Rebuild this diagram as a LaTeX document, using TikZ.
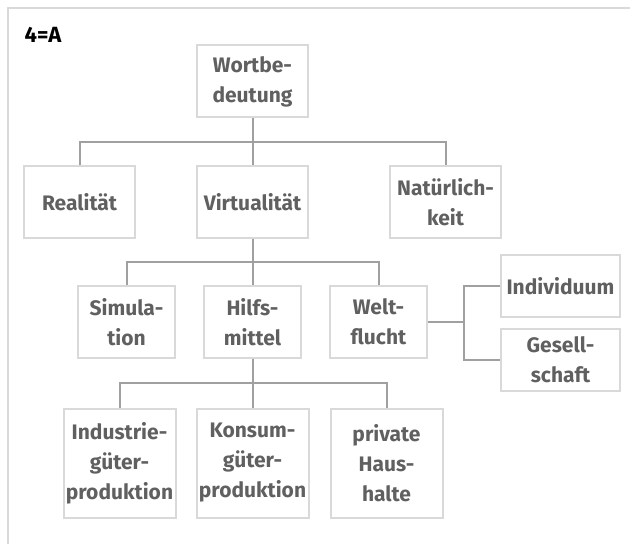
\documentclass[tikz,border=0pt]{standalone}
\usepackage{fontspec}
\setmainfont{Fira Sans}
\usetikzlibrary{positioning,calc}
\definecolor{boxline}{HTML}{D9D9D9}
\definecolor{linkline}{HTML}{A0A0A0}
\definecolor{boxtext}{HTML}{606060}

\begin{document}
\begin{tikzpicture}[box/.style={shape=rectangle,draw=boxline,line width=1pt,
		align=center,text=boxtext,inner sep=1pt,
		font=\fontsize{10.5}{15}\selectfont\bfseries},
		toprow/.style={box,minimum width=55.5pt,minimum height=36pt},
		midrow/.style={box,minimum width=48.5pt,minimum height=35.5pt},
		siderow/.style={box,minimum width=59.5pt,minimum height=31pt},
		lowrow/.style={box,minimum width=56pt,minimum height=54.5pt},
		link/.style={draw=linkline,line width=1pt}]
		\useasboundingbox (0,0) rectangle (315pt,-272pt);
		% frame and title
		\draw[boxline,line width=1pt] (315pt,-4pt) -- (4pt,-4pt) -- (4pt,-272pt);
		\node (title) at (21.5pt,-17.5pt) {\fontsize{11}{13}\selectfont\bfseries 4=A};

		% create the nodes
		\node (wortbedeutung) [toprow] at (126.25pt,-40.75pt) {Wortbe-\\deutung};
		\node (virtualitaet) [toprow,below=23.5pt of wortbedeutung] {Virtualität};
		\node (realitaet) [toprow,left=30pt of virtualitaet] {Realität};
		\node (natuerlichkeit) [toprow,right=40pt of virtualitaet] {Natürlich-\\keit};
		\node (hilfsmittel) [midrow,below=23pt of virtualitaet] {Hilfs-\\mittel};
		\node (simulation) [midrow,left=13.5pt of hilfsmittel] {Simula-\\tion};
		\node (weltflucht) [midrow,right=13.5pt of hilfsmittel] {Welt-\\flucht};
		\node (individuum) [siderow,right=36pt of weltflucht,yshift=18pt] {Individuum};
		\node (gesellschaft) [siderow,below=5pt of individuum] {Gesell-\\schaft};
		\node (konsum) [lowrow,below=24.5pt of hilfsmittel] {Konsum-\\güter-\\produktion};
		\node (industrie) [lowrow,left=9.5pt of konsum] {Industrie-\\güter-\\produktion};
		\node (haushalte) [lowrow,right=10pt of konsum] {private\\Haus-\\halte};

		% split points
		\coordinate (split1) at ($(wortbedeutung.south)!.5!(virtualitaet.north)$);
		\coordinate (split2) at ($(virtualitaet.south)!.5!(hilfsmittel.north)$);
		\coordinate (split3) at ($(hilfsmittel.south)!.5!(konsum.north)$);
		\coordinate (split4) at ($(weltflucht.east)!.5!(weltflucht.east -| individuum.west)$);

		% connect the nodes
		\draw[link] (wortbedeutung) -- (virtualitaet);
		\draw[link] (realitaet.north) |- (split1) -| (natuerlichkeit.north);
		\draw[link] (virtualitaet) -- (hilfsmittel);
		\draw[link] (simulation.north) |- (split2) -| (weltflucht.north);
		\draw[link] (hilfsmittel) -- (konsum);
		\draw[link] (industrie.north) |- (split3) -| (haushalte.north);
		\draw[link] (weltflucht.east) -- (split4);
		\draw[link] (individuum.west) -| (split4) |- (gesellschaft.west);

	\end{tikzpicture}
\end{document}
